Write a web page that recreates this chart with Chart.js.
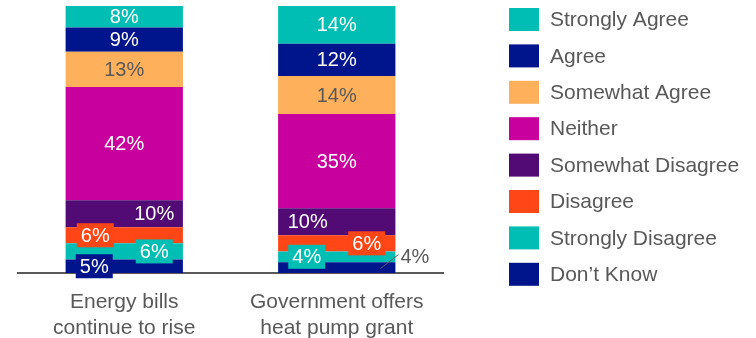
<!DOCTYPE html>
<html>
<head>
<meta charset="utf-8">
<script src="https://cdn.jsdelivr.net/npm/chart.js@4"></script>
<style>
  html, body { margin: 0; padding: 0; background: #fff; }
  #wrap { width: 756px; height: 338px; position: relative; }
</style>
</head>
<body>
<div id="wrap"><canvas id="chart"></canvas></div>
<script>
// categories (two statements) and answer scale, bottom of the stack first
const categories = [['Energy bills', 'continue to rise'], ['Government offers', 'heat pump grant']];
const answers = ['Don\u2019t Know', 'Strongly Disagree', 'Disagree', 'Somewhat Disagree',
  'Neither', 'Somewhat Agree', 'Agree', 'Strongly Agree'];

// percentages per answer: [energy bills, heat pump grant]
const dontKnow = [5, 4];
const stronglyDisagree = [6, 4];
const disagree = [6, 6];
const somewhatDisagree = [10, 10];
const neither = [42, 35];
const somewhatAgree = [13, 14];
const agree = [9, 12];
const stronglyAgree = [8, 14];

const values = [dontKnow, stronglyDisagree, disagree, somewhatDisagree,
  neither, somewhatAgree, agree, stronglyAgree];

const colors = ['#00148C', '#00BEB4', '#FF4616', '#520B74',
  '#C8009E', '#FFB05A', '#00148C', '#00BEB4'];
const labelColors = ['#fff', '#fff', '#fff', '#fff', '#fff', '#595959', '#fff', '#fff'];

const GREY = '#595959';
const FONT = 'Liberation Sans, Arial, sans-serif';

// where the small segment labels go (offset from bar centre, boxed or called out)
const labelPlace = [
  [{ dx: -30, box: true }, { dx: 30, box: true }, { dx: -29, box: true }, { dx: 30 }, {}, {}, {}, {}],
  [{ callout: true }, { dx: -30, box: true }, { dx: 30, box: true }, { dx: -29 }, {}, {}, {}, {}]
];

const segmentLabels = {
  id: 'segmentLabels',
  afterDatasetsDraw(chart) {
    const { ctx } = chart;
    ctx.save();
    ctx.font = '20px ' + FONT;
    ctx.textBaseline = 'middle';
    chart.data.datasets.forEach((ds, di) => {
      const meta = chart.getDatasetMeta(di);
      meta.data.forEach((bar, bi) => {
        const { x, y, base, width } = bar.getProps(['x', 'y', 'base', 'width'], true);
        const cy = (y + base) / 2;
        const text = ds.data[bi] + '%';
        const p = labelPlace[bi][di] || {};
        if (p.callout) {
          const right = x + width / 2;
          ctx.strokeStyle = GREY;
          ctx.lineWidth = 1;
          ctx.beginPath();
          ctx.moveTo(right - 15, cy + 1);
          ctx.lineTo(right + 3, cy - 13);
          ctx.stroke();
          ctx.fillStyle = GREY;
          ctx.textAlign = 'left';
          ctx.fillText(text, right + 5, cy - 10);
          return;
        }
        const lx = x + (p.dx || 0);
        if (p.box) {
          ctx.fillStyle = ds.backgroundColor;
          ctx.fillRect(lx - 18.5, cy - 12, 37, 24);
        }
        ctx.fillStyle = labelColors[di];
        ctx.textAlign = 'center';
        ctx.fillText(text, lx, cy + 1);
      });
    });
    ctx.restore();
  }
};

// legend on the right, top answer first
const sideLegend = {
  id: 'sideLegend',
  afterDraw(chart) {
    const { ctx } = chart;
    ctx.save();
    ctx.font = '21px ' + FONT;
    ctx.textBaseline = 'middle';
    ctx.textAlign = 'left';
    const n = chart.data.datasets.length;
    for (let i = 0; i < n; i++) {
      const ds = chart.data.datasets[n - 1 - i];
      const top = 8 + i * 36.4;
      ctx.fillStyle = ds.backgroundColor;
      ctx.fillRect(509, top, 30, 23);
      ctx.fillStyle = GREY;
      ctx.fillText(ds.label, 550, top + 12.5);
    }
    ctx.restore();
  }
};

new Chart(document.getElementById('chart'), {
  type: 'bar',
  data: {
    labels: categories,
    datasets: answers.map((label, i) => ({
      label,
      data: values[i],
      backgroundColor: colors[i],
      borderWidth: 0,
      barPercentage: 1,
      categoryPercentage: 0.552
    }))
  },
  options: {
    responsive: true,
    maintainAspectRatio: false,
    animation: false,
    layout: { padding: { top: 6, left: 18, right: 313, bottom: 0 } },
    plugins: {
      legend: { display: false },
      tooltip: { enabled: false }
    },
    scales: {
      x: {
        stacked: true,
        grid: { display: false },
        border: { display: true, color: GREY, width: 2 },
        ticks: {
          color: GREY,
          padding: 9,
          font: { family: FONT, size: 21, lineHeight: 1.2 }
        },
        afterFit(scale) { scale.height = 65; }
      },
      y: {
        stacked: true,
        display: false,
        min: 0,
        max: 99
      }
    }
  },
  plugins: [segmentLabels, sideLegend]
});
</script>
</body>
</html>
